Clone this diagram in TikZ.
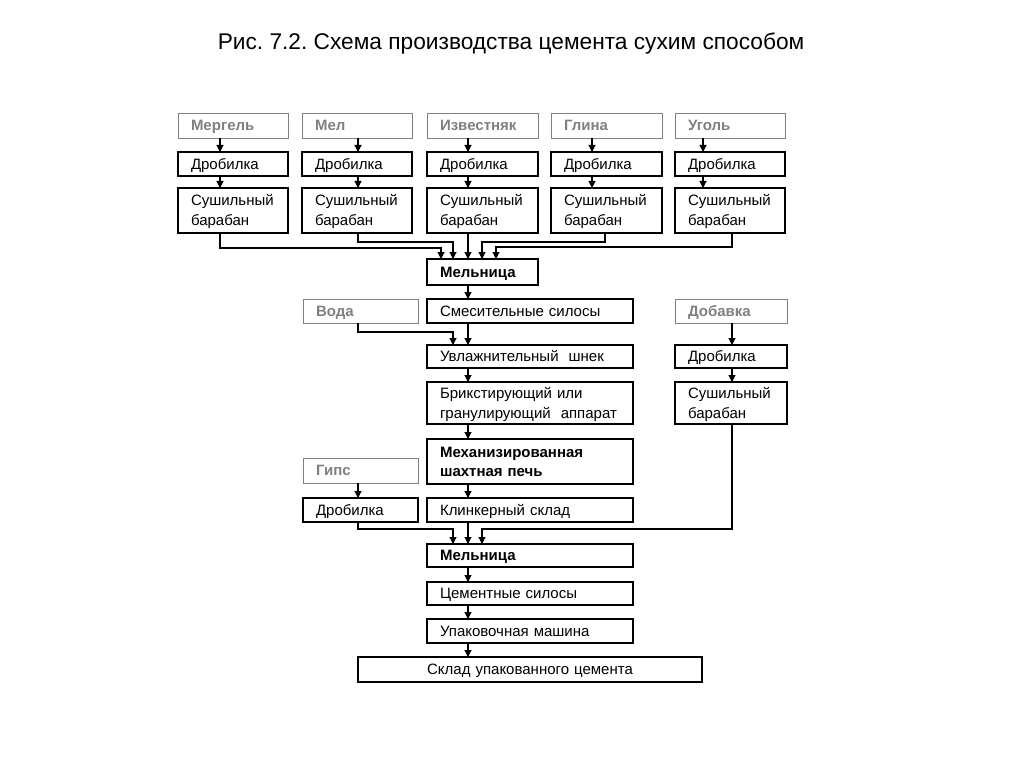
\documentclass[tikz,border=0pt]{standalone}
\usepackage{fontspec}
\setmainfont{Liberation Sans}
\usetikzlibrary{arrows.meta}
\definecolor{gr}{HTML}{808080}
\frenchspacing
\newcommand\mystr{\rule[-4pt]{0pt}{18.8pt}}
\newcommand\bx[7]{%
  \pgfmathsetmacro\bw{#4-#2}\pgfmathsetmacro\bh{#5-#3}\pgfmathsetmacro\tw{#4-#2-26}%
  \pgfmathsetmacro\cx{(#2+#4)/2}\pgfmathsetmacro\cy{-(#3+#5)/2}%
  \node[#6, minimum width=\bw pt, minimum height=\bh pt, text width=\tw pt] (#1) at (\cx pt,\cy pt) {\mystr#7\mystr};}
\tikzset{
  box/.style={draw=black, line width=1.3pt, inner xsep=13pt, inner ysep=0pt, outer sep=0pt, align=left, font=\fontsize{15}{18}\selectfont},
  src/.style={box, draw=gr, line width=0.9pt, text=gr, font=\fontsize{15}{18}\selectfont\bfseries},
  bbox/.style={box, font=\fontsize{15}{18}\selectfont\bfseries},
  arr/.style={line width=1.1pt, -{Triangle[length=7pt,width=7pt]}}
}
\begin{document}
\begin{tikzpicture}
\useasboundingbox (0,0) rectangle (1024pt,-767pt);
\node[font=\fontsize{22.7}{26}\selectfont] (title) at (511pt,-44pt) {Рис. 7.2. Схема производства цемента сухим способом};
% top row
\bx{r1}{178}{113}{288}{138}{src}{Мергель}
\bx{r2}{302}{113}{412}{138}{src}{Мел}
\bx{r3}{427}{113}{538}{138}{src}{Известняк}
\bx{r4}{551}{113}{662}{138}{src}{Глина}
\bx{r5}{675}{113}{785}{138}{src}{Уголь}
\bx{c1}{178}{152}{288}{176}{box}{Дробилка}
\bx{c2}{302}{152}{412}{176}{box}{Дробилка}
\bx{c3}{427}{152}{538}{176}{box}{Дробилка}
\bx{c4}{551}{152}{662}{176}{box}{Дробилка}
\bx{c5}{675}{152}{785}{176}{box}{Дробилка}
\bx{d1}{178}{188}{288}{233}{box}{Сушильный\\барабан}
\bx{d2}{302}{188}{412}{233}{box}{Сушильный\\барабан}
\bx{d3}{427}{188}{538}{233}{box}{Сушильный\\барабан}
\bx{d4}{551}{188}{662}{233}{box}{Сушильный\\барабан}
\bx{d5}{675}{188}{785}{233}{box}{Сушильный\\барабан}
\bx{m1}{427}{259}{538}{285}{bbox}{Мельница}
% column arrows top
\draw[arr] ([xshift=42pt]r1.south west) -- ([xshift=42pt]c1.north west);
\draw[arr] ([xshift=42pt]c1.south west) -- ([xshift=42pt]d1.north west);
\draw[arr] ([xshift=56pt]r2.south west) -- ([xshift=56pt]c2.north west);
\draw[arr] ([xshift=56pt]c2.south west) -- ([xshift=56pt]d2.north west);
\draw[arr] ([xshift=41pt]r3.south west) -- ([xshift=41pt]c3.north west);
\draw[arr] ([xshift=41pt]c3.south west) -- ([xshift=41pt]d3.north west);
\draw[arr] ([xshift=41pt]r4.south west) -- ([xshift=41pt]c4.north west);
\draw[arr] ([xshift=41pt]c4.south west) -- ([xshift=41pt]d4.north west);
\draw[arr] ([xshift=28pt]r5.south west) -- ([xshift=28pt]c5.north west);
\draw[arr] ([xshift=28pt]c5.south west) -- ([xshift=28pt]d5.north west);
% merge to mill
\draw[arr] ([xshift=42pt]d1.south west) |- ([xshift=14pt,yshift=11pt]m1.north west) -- ([xshift=14pt]m1.north west);
\draw[arr] ([xshift=56pt]d2.south west) |- ([xshift=26pt,yshift=17pt]m1.north west) -- ([xshift=26pt]m1.north west);
\draw[arr] ([xshift=41pt]d3.south west) -- ([xshift=41pt]m1.north west);
\draw[arr] ([xshift=54pt]d4.south west) |- ([xshift=55pt,yshift=17pt]m1.north west) -- ([xshift=55pt]m1.north west);
\draw[arr] ([xshift=57pt]d5.south west) |- ([xshift=69pt,yshift=12pt]m1.north west) -- ([xshift=69pt]m1.north west);
% middle
\bx{w}{303}{299}{418}{323}{src}{Вода}
\bx{s}{427}{299}{633}{323}{box}{Смесительные силосы}
\bx{u}{427}{345}{633}{368}{box}{Увлажнительный\ \ шнек}
\bx{b}{427}{382}{633}{424}{box}{Брикстирующий или\\гранулирующий\ \ аппарат}
\bx{p}{427}{439}{633}{484}{bbox}{Механизированная\\шахтная печь}
\bx{k}{427}{498}{633}{522}{box}{Клинкерный склад}
\bx{g}{303}{458}{418}{483}{src}{Гипс}
\bx{gc}{303}{498}{418}{522}{box}{Дробилка}
\bx{a}{675}{299}{787}{323}{src}{Добавка}
\bx{ac}{675}{345}{787}{368}{box}{Дробилка}
\bx{ad}{675}{382}{787}{424}{box}{Сушильный\\барабан}
\bx{m2}{427}{544}{633}{567}{bbox}{Мельница}
\bx{cs}{427}{582}{633}{605}{box}{Цементные силосы}
\bx{up}{427}{619}{633}{643}{box}{Упаковочная машина}
\node[box, align=center, minimum width=344pt, minimum height=25pt, text width=318pt] (sk) at (530pt,-669.5pt) {\mystr Склад упакованного цемента\mystr};
\draw[arr] ([xshift=41pt]m1.south west) -- ([xshift=41pt]s.north west);
\draw[arr] ([xshift=41pt]s.south west) -- ([xshift=41pt]u.north west);
\draw[arr] ([xshift=55pt]w.south west) |- ([xshift=26pt,yshift=13pt]u.north west) -- ([xshift=26pt]u.north west);
\draw[arr] ([xshift=41pt]u.south west) -- ([xshift=41pt]b.north west);
\draw[arr] ([xshift=41pt]b.south west) -- ([xshift=41pt]p.north west);
\draw[arr] ([xshift=41pt]p.south west) -- ([xshift=41pt]k.north west);
\draw[arr] ([xshift=55pt]g.south west) -- ([xshift=55pt]gc.north west);
\draw[arr] ([xshift=57pt]a.south west) -- ([xshift=57pt]ac.north west);
\draw[arr] ([xshift=57pt]ac.south west) -- ([xshift=57pt]ad.north west);
\draw[arr] ([xshift=55pt]gc.south west) |- ([xshift=26pt,yshift=15pt]m2.north west) -- ([xshift=26pt]m2.north west);
\draw[arr] ([xshift=41pt]k.south west) -- ([xshift=41pt]m2.north west);
\draw[arr] ([xshift=57pt]ad.south west) |- ([xshift=55pt,yshift=15pt]m2.north west) -- ([xshift=55pt]m2.north west);
\draw[arr] ([xshift=41pt]m2.south west) -- ([xshift=41pt]cs.north west);
\draw[arr] ([xshift=41pt]cs.south west) -- ([xshift=41pt]up.north west);
\draw[arr] ([xshift=41pt]up.south west) -- ([xshift=110pt]sk.north west);
\end{tikzpicture}
\end{document}
